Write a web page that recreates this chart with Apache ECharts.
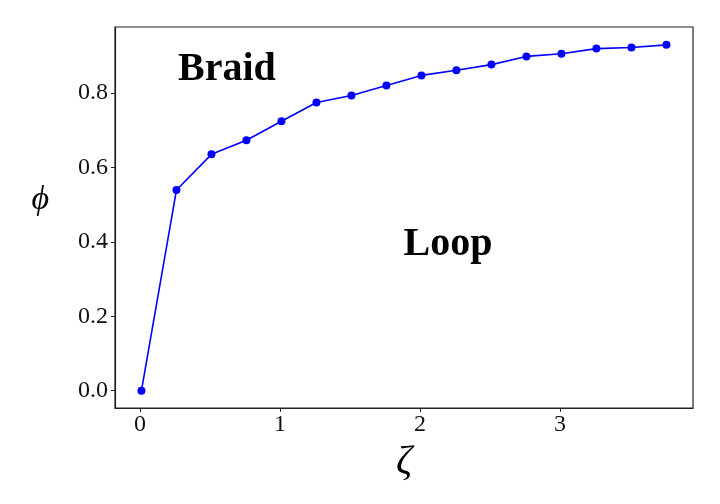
<!DOCTYPE html>
<html><head><meta charset="utf-8">
<script src="https://cdn.jsdelivr.net/npm/echarts@6/dist/echarts.min.js"></script>
<style>html,body{margin:0;padding:0;background:#fff}#c{width:720px;height:504px}</style>
</head><body><div id="c"></div>
<script>
const zeta = [0.01, 0.26, 0.51, 0.76, 1.01, 1.26, 1.51, 1.76, 2.01, 2.26, 2.51, 2.76, 3.01, 3.26, 3.51, 3.76];
const phi = [0.0, 0.539, 0.635, 0.673, 0.724, 0.774, 0.793, 0.820, 0.847, 0.861, 0.876, 0.898, 0.905, 0.919, 0.922, 0.929];
const xTicks = [0, 1, 2, 3];
const yTicks = [0.0, 0.2, 0.4, 0.6, 0.8];
const regionLabels = [
  {name: 'Braid', x: 0.62, y: 0.862},
  {name: 'Loop', x: 2.2, y: 0.393}
];
const font = "'Liberation Serif', 'DejaVu Serif', serif";
const chart = echarts.init(document.getElementById('c'), null, {renderer: 'canvas'});
chart.setOption({
  animation: false,
  backgroundColor: '#fff',
  grid: {left: 115, right: 27, top: 27, bottom: 96, show: true, borderColor: '#222', borderWidth: 1.2},
  xAxis: {
    type: 'value', min: -0.179, max: 3.95,
    name: 'ζ', nameLocation: 'middle', nameGap: 34,
    nameTextStyle: {fontFamily: font, fontSize: 40, fontStyle: 'italic', color: '#000'},
    axisLine: {show: true, onZero: false, lineStyle: {color: '#222', width: 1.2}},
    axisTick: {show: true, length: 4, customValues: xTicks, lineStyle: {color: '#222'}},
    axisLabel: {customValues: xTicks, margin: 5, fontFamily: font, fontSize: 24, color: '#111', formatter: v => String(v)},
    splitLine: {show: false}
  },
  yAxis: {
    type: 'value', min: -0.0464, max: 0.977,
    name: 'ϕ', nameLocation: 'middle', nameGap: 66, nameRotate: 0,
    nameTextStyle: {fontFamily: font, fontSize: 34, fontStyle: 'italic', color: '#000', verticalAlign: 'bottom'},
    axisLine: {show: true, onZero: false, lineStyle: {color: '#222', width: 1.2}},
    axisTick: {show: true, length: 4, customValues: yTicks, lineStyle: {color: '#222'}},
    axisLabel: {customValues: yTicks, margin: 7, fontFamily: font, fontSize: 24, color: '#111', formatter: v => v.toFixed(1)},
    splitLine: {show: false}
  },
  series: [
    {
      type: 'line',
      data: zeta.map((x, i) => [x, phi[i]]),
      symbol: 'circle', symbolSize: 8, showAllSymbol: true,
      lineStyle: {color: '#0000ff', width: 1.6},
      itemStyle: {color: '#0000ff'}
    },
    {
      type: 'scatter',
      symbolSize: 0,
      itemStyle: {opacity: 1},
      data: regionLabels.map(d => ({name: d.name, value: [d.x, d.y]})),
      label: {show: true, position: 'inside', formatter: p => p.name, opacity: 1,
        fontFamily: font, fontWeight: 'bold', fontSize: 40, color: '#000'},
      silent: true
    }
  ]
});
</script></body></html>
